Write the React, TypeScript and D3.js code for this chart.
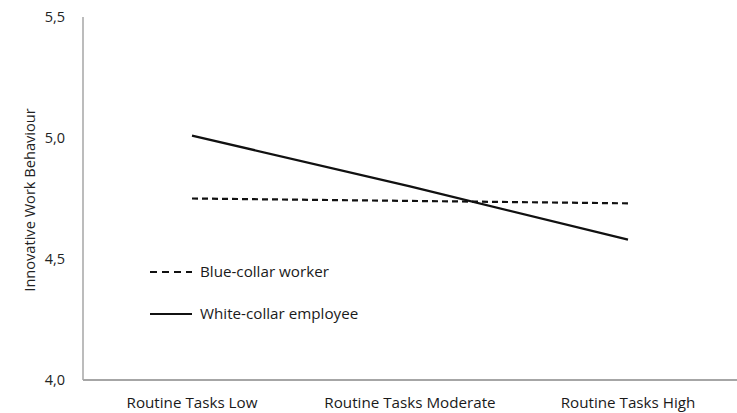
import React, { useEffect, useRef } from "react";
import * as d3 from "d3";

const categories = ["Routine Tasks Low", "Routine Tasks Moderate", "Routine Tasks High"];
const blueCollar = [4.75, 4.74, 4.73];
const whiteCollar = [5.01, 4.8, 4.58];
const yTicks = [4.0, 4.5, 5.0, 5.5];

const seriesList = [
  { name: "Blue-collar worker", values: blueCollar, dash: "6 4", legendDash: "7 5" },
  { name: "White-collar employee", values: whiteCollar, dash: null, legendDash: null },
];

const W = 737;
const H = 413;
const FONT = "'Open Sans', 'Noto Sans', sans-serif";

export default function App() {
  const svgRef = useRef<SVGSVGElement>(null);

  useEffect(() => {
    document.body.style.margin = "0";
    const el = svgRef.current;
    if (!el) return;
    const svg = d3.select(el);
    svg.selectAll("*").remove();

    const m = { top: 17, right: 0, bottom: 33, left: 83 };
    const xs = d3
      .scaleBand<string>()
      .domain(categories)
      .range([m.left, W - m.right]);
    const ys = d3
      .scaleLinear()
      .domain([4.0, 5.5])
      .range([H - m.bottom, m.top]);

    // Axes
    svg
      .append("line")
      .attr("x1", m.left)
      .attr("x2", m.left)
      .attr("y1", ys(5.5))
      .attr("y2", ys(4.0))
      .attr("stroke", "#a6a6a6")
      .attr("stroke-width", 1.5);
    svg
      .append("line")
      .attr("x1", m.left)
      .attr("x2", W)
      .attr("y1", ys(4.0))
      .attr("y2", ys(4.0))
      .attr("stroke", "#a6a6a6")
      .attr("stroke-width", 2);

    // Y tick labels
    svg
      .selectAll(".yt")
      .data(yTicks)
      .enter()
      .append("text")
      .attr("x", 65)
      .attr("y", (d) => ys(d))
      .attr("dy", "0.35em")
      .attr("text-anchor", "end")
      .attr("fill", "#222")
      .style("font-size", "14.5px")
      .style("font-family", FONT)
      .text((d) => d3.format(".1f")(d).replace(".", ","));

    // X labels
    svg
      .selectAll(".xt")
      .data(categories)
      .enter()
      .append("text")
      .attr("x", (d) => (xs(d) || 0) + xs.bandwidth() / 2)
      .attr("y", 403)
      .attr("dy", "0.35em")
      .attr("text-anchor", "middle")
      .attr("fill", "#1a1a1a")
      .style("font-size", "15.2px")
      .style("font-family", FONT)
      .text((d) => d);

    // Y title
    svg
      .append("text")
      .attr("transform", "translate(30,200) rotate(-90)")
      .attr("dy", "0.35em")
      .attr("text-anchor", "middle")
      .attr("fill", "#222")
      .style("font-size", "14.6px")
      .style("font-family", FONT)
      .text("Innovative Work Behaviour");

    // Lines
    const line = d3
      .line<number>()
      .x((_, i) => (xs(categories[i]) || 0) + xs.bandwidth() / 2)
      .y((d) => ys(d));
    seriesList.forEach((s) => {
      svg
        .append("path")
        .datum(s.values)
        .attr("fill", "none")
        .attr("stroke", "#111")
        .attr("stroke-width", 2.2)
        .attr("stroke-dasharray", s.dash)
        .attr("d", line);
    });

    // Legend
    seriesList.forEach((s, i) => {
      const y = 272 + i * 42;
      svg
        .append("line")
        .attr("x1", 150)
        .attr("x2", 192)
        .attr("y1", y)
        .attr("y2", y)
        .attr("stroke", "#111")
        .attr("stroke-width", 2)
        .attr("stroke-dasharray", s.legendDash);
      svg
        .append("text")
        .attr("x", 200)
        .attr("y", y)
        .attr("dy", "0.35em")
        .attr("fill", "#1a1a1a")
        .style("font-size", "15.2px")
        .style("font-family", FONT)
        .text(s.name);
    });
  }, []);

  return (
    <svg
      ref={svgRef}
      width={W}
      height={H}
      style={{ display: "block", background: "#fff" }}
    />
  );
}
